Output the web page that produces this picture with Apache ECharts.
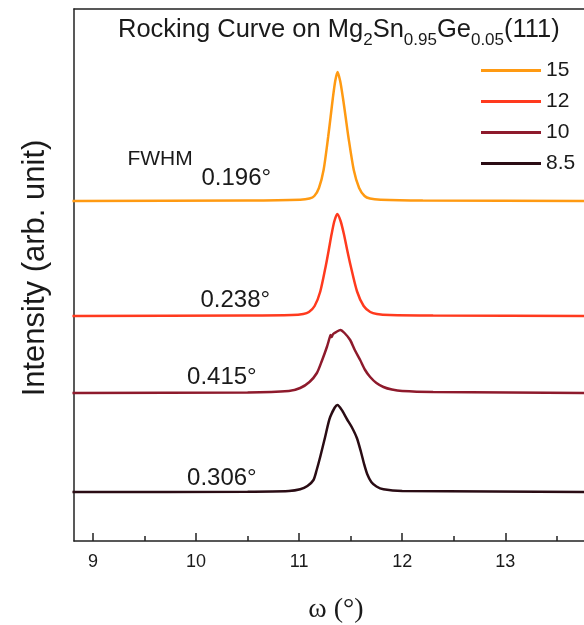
<!DOCTYPE html>
<html>
<head>
<meta charset="utf-8">
<script src="https://cdn.jsdelivr.net/npm/echarts@6/dist/echarts.min.js"></script>
<style>
html,body{margin:0;padding:0;background:#fff;}
#chart{width:584px;height:625px;}
</style>
</head>
<body>
<div id="chart"></div>
<script>
// ---- data ----
const seriesNames = ['15', '12', '10', '8.5'];
const seriesColors = ['#FF9A12', '#FF3A1E', '#8E1A2C', '#2A0C14'];
const baselineOffsets = [340, 225, 148, 49];
const fwhmLabels = ['0.196°', '0.238°', '0.415°', '0.306°'];

const omega15 = [8.8, 10.5, 11.01, 11.10, 11.147, 11.192, 11.237, 11.282, 11.305, 11.327, 11.35, 11.372, 11.398, 11.425, 11.451, 11.477, 11.53, 11.582, 11.635, 11.687, 11.79, 12.2, 13.9];
const int15   = [0,   0.5,  1.3,   2.5,   5,      13,     31,     64.5,   84,     103,    120,   129,    120,    103,    84,     64.5,   31,    13,     5,      2.5,    1.3,   0.5,  0];

const omega12 = [8.8, 10.5, 10.93, 11.04, 11.095, 11.15, 11.205, 11.26, 11.287, 11.315, 11.342, 11.37, 11.402, 11.434, 11.466, 11.498, 11.562, 11.626, 11.69, 11.754, 11.88, 12.3, 13.9];
const int12   = [0,   0.5,  1,     2,     4,      10,    24.5,   51,    66,     82,     95,     102,   95,     82,     66,     51,     24.5,   10,     4,     2,      1,     0.5,  0];

const omega10 = [8.8, 10.5, 10.9, 11.01, 11.1, 11.172, 11.22, 11.269, 11.295, 11.305, 11.315, 11.33, 11.36, 11.4, 11.44, 11.495, 11.54, 11.592, 11.64, 11.689, 11.75, 11.818, 11.9, 12.0, 12.3, 13.9];
const int10   = [0,   0.5,  2,    5,     11,   20,     32,    46,     55,     58,     56,     59,    61,    63,   60,    53,     43,    33,     23,    16,     10,    6,      3.5,  2,    1,    0];

const omega85 = [8.8, 10.5, 10.9, 11.01, 11.08, 11.139, 11.17, 11.204, 11.252, 11.301, 11.372, 11.42, 11.463, 11.51, 11.56, 11.6, 11.63, 11.66, 11.7, 11.75, 11.818, 12.0, 13.9];
const int85   = [0,   0.3,  1,    2.7,   6,     12,     22,    35,     55,     75,     87,     81,    73,     65,    54,    40,   28,    18,    10,   5.5,   2.7,    1,    0];

const xTickValues = [9, 10, 11, 12, 13];
const xMinorTickValues = [9.5, 10.5, 11.5, 12.5, 13.5];

const omegas = [omega15, omega12, omega10, omega85];
const intens = [int15, int12, int10, int85];

// label anchors in data coordinates [omega, intensity]
const fwhmAnchor = [[10.39, 363], [10.38, 241], [10.25, 164], [10.25, 63]];
const fwhmWordAnchor = [9.65, 382];

const chart = echarts.init(document.getElementById('chart'));

const fontMain = 'Liberation Sans, Arial, sans-serif';

const series = seriesNames.map((name, k) => {
  const s = {
    name: name,
    type: 'line',
    smooth: 0.25,
    symbol: 'none',
    color: seriesColors[k],
    lineStyle: { width: 2.5, color: seriesColors[k] },
    data: omegas[k].map((w, i) => [w, intens[k][i] + baselineOffsets[k]]),
    markPoint: {
      symbol: 'circle', symbolSize: 0,
      label: { show: true, position: 'inside', color: '#1a1a1a', fontFamily: fontMain, fontSize: 24 },
      data: [{ coord: fwhmAnchor[k], value: fwhmLabels[k], label: { formatter: fwhmLabels[k] } }]
    }
  };
  if (k === 0) {
    s.markPoint.data.push({ coord: fwhmWordAnchor, value: 'FWHM', label: { formatter: 'FWHM', fontSize: 21 } });
  }
  return s;
});

chart.setOption({
  animation: false,
  backgroundColor: '#fff',
  title: {
    left: 118, top: 17, padding: 0,
    text: '{n|Rocking Curve on Mg}{s|2}{n|Sn}{s|0.95}{n|Ge}{s|0.05}{n|(111)}',
    textStyle: {
      fontWeight: 'normal',
      rich: {
        n: { fontSize: 25.5, lineHeight: 30, fontWeight: 'normal', fontFamily: fontMain, color: '#1a1a1a', verticalAlign: 'top' },
        s: { fontSize: 17, lineHeight: 32, fontWeight: 'normal', fontFamily: fontMain, color: '#1a1a1a', verticalAlign: 'bottom' }
      }
    }
  },
  legend: {
    orient: 'vertical',
    left: 476, top: 55,
    icon: 'rect',
    itemWidth: 60, itemHeight: 3,
    itemGap: 10,
    textStyle: { fontSize: 21, lineHeight: 21, fontFamily: fontMain, color: '#1a1a1a' },
    data: seriesNames
  },
  grid: { left: 74, top: 9, width: 524, height: 532, outerBoundsMode: 'none', containLabel: false },
  xAxis: [{
    type: 'value', min: 8.815, max: 13.9, position: 'bottom',
    splitLine: { show: false },
    axisLine: { show: true, lineStyle: { color: '#222', width: 1.5 } },
    axisTick: { show: true, inside: true, length: 8, customValues: xTickValues, lineStyle: { color: '#222', width: 1.5 } },
    axisLabel: { show: true, customValues: xTickValues, margin: 12, fontSize: 18, fontFamily: fontMain, color: '#1a1a1a' },
    name: 'ω (°)', nameLocation: 'middle', nameGap: 55,
    nameTextStyle: { fontSize: 28, fontFamily: 'Liberation Serif, Times New Roman, serif', color: '#1a1a1a' }
  }, {
    type: 'value', min: 8.815, max: 13.9, position: 'bottom',
    splitLine: { show: false },
    axisLine: { show: false },
    axisTick: { show: true, inside: true, length: 5, customValues: xMinorTickValues, lineStyle: { color: '#222', width: 1.5 } },
    axisLabel: { show: false }
  }, {
    type: 'value', min: 8.815, max: 13.9, position: 'top',
    splitLine: { show: false },
    axisLine: { show: true, lineStyle: { color: '#222', width: 1.5 } },
    axisTick: { show: false }, axisLabel: { show: false }
  }],
  yAxis: {
    type: 'value', min: 0, max: 532,
    splitLine: { show: false },
    axisLine: { show: true, lineStyle: { color: '#222', width: 1.5 } },
    axisTick: { show: false }, axisLabel: { show: false }
  },
  graphic: [{
    type: 'text', x: 35, y: 268, rotation: Math.PI / 2,
    style: { text: 'Intensity (arb. unit)', fontSize: 31, fontFamily: fontMain, fill: '#1a1a1a', align: 'center', verticalAlign: 'middle' }
  }],
  series: series
});
</script>
</body>
</html>
